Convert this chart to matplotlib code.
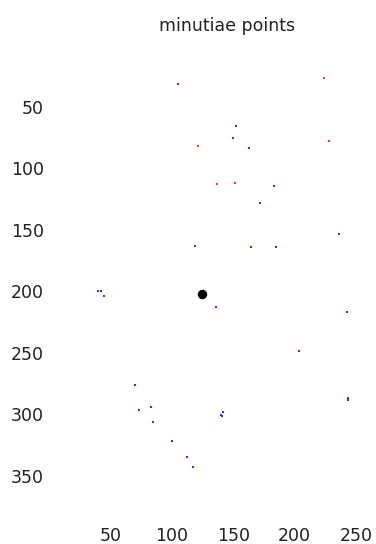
import matplotlib
matplotlib.use('Agg')
import matplotlib.pyplot as plt

# minutiae coordinates (image pixels: column, row)
red_x = [224, 228, 121.5, 137, 151.5]
red_y = [26.5, 77.5, 81.5, 112.5, 111.5]

blue_x = [105, 152.5, 150, 162.5, 183, 171.5, 236, 119, 164, 184.5,
          39.5, 42, 44.5, 136, 242.5, 203.5, 70, 73, 83, 84.5,
          100, 112.5, 117.5, 140, 142, 141, 243, 243.5]
blue_y = [31.5, 65, 75, 83, 114, 128, 153.5, 163, 164, 164,
          200, 200, 204, 212.5, 216.5, 249, 276, 296.5, 294, 306.5,
          322, 335, 343, 300.5, 298.5, 301.5, 287, 288.5]

core_x = [124.5]
core_y = [202]

x_ticks = [50, 100, 150, 200, 250]
y_ticks = [50, 100, 150, 200, 250, 300, 350]

fig = plt.figure(figsize=(3.76, 5.44), dpi=100)
ax = fig.add_axes([0.1322, 0.0401, 0.9423, 0.8748])

ax.plot(blue_x, blue_y, 's', color='#3030ff', markersize=1.7, markeredgewidth=0)
ax.plot(red_x, red_y, 's', color='#ff3030', markersize=1.7, markeredgewidth=0)
ax.plot(core_x, core_y, 'o', color='k', markersize=5.8)

ax.set_xlim(0.5, 289)
ax.set_ylim(388, 0.5)
ax.set_xticks(x_ticks)
ax.set_yticks(y_ticks)
ax.tick_params(length=0, labelsize=12.5, colors='#222222')
ax.tick_params(axis='x', pad=3.6)
ax.tick_params(axis='y', pad=4.3)
for s in ax.spines.values():
    s.set_visible(False)
ax.set_title('minutiae points', fontsize=12.5, pad=11, color='#222222')

fig.savefig('out.png', dpi=100, facecolor='white')
